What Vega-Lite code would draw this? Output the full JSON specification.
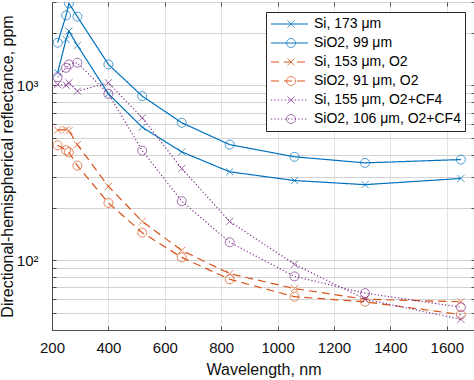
{
  "$schema": "https://vega.github.io/schema/vega-lite/v6.json",
  "width": 423,
  "height": 328,
  "autosize": {"type": "none"},
  "padding": {"left": 52, "top": 2, "right": 0, "bottom": 50},
  "config": {
    "font": "Liberation Sans",
    "view": {"stroke": "#4d4d4d", "strokeWidth": 1},
    "axis": {
      "labelFont": "Liberation Sans",
      "titleFont": "Liberation Sans",
      "labelColor": "#111111",
      "titleColor": "#111111",
      "domainColor": "#4d4d4d",
      "tickColor": "#4d4d4d",
      "labelFontSize": 15,
      "titleFontSize": 16,
      "titleFontWeight": "normal",
      "tickSize": -4,
      "labelOverlap": false,
      "labelFlush": false
    }
  },
  "data": {
    "values": [
      {"series": "Si, 173 μm", "series2": "Si, 173 μm", "w": 220, "r": 1183},
      {"series": "Si, 173 μm", "series2": "Si, 173 μm", "w": 250, "r": 1834},
      {"series": "Si, 173 μm", "series2": "Si, 173 μm", "w": 260, "r": 2046},
      {"series": "Si, 173 μm", "series2": "Si, 173 μm", "w": 290, "r": 1694},
      {"series": "Si, 173 μm", "series2": "Si, 173 μm", "w": 400, "r": 896},
      {"series": "Si, 173 μm", "series2": "Si, 173 μm", "w": 520, "r": 577},
      {"series": "Si, 173 μm", "series2": "Si, 173 μm", "w": 660, "r": 417},
      {"series": "Si, 173 μm", "series2": "Si, 173 μm", "w": 830, "r": 321},
      {"series": "Si, 173 μm", "series2": "Si, 173 μm", "w": 1060, "r": 286},
      {"series": "Si, 173 μm", "series2": "Si, 173 μm", "w": 1310, "r": 271},
      {"series": "Si, 173 μm", "series2": "Si, 173 μm", "w": 1650, "r": 294},
      {"series": "SiO2, 99 μm", "series2": "SiO2, 99 μm", "w": 220, "r": 1756},
      {"series": "SiO2, 99 μm", "series2": "SiO2, 99 μm", "w": 250, "r": 2516},
      {"series": "SiO2, 99 μm", "series2": "SiO2, 99 μm", "w": 260, "r": 2946},
      {"series": "SiO2, 99 μm", "series2": "SiO2, 99 μm", "w": 290, "r": 2473},
      {"series": "SiO2, 99 μm", "series2": "SiO2, 99 μm", "w": 400, "r": 1319},
      {"series": "SiO2, 99 μm", "series2": "SiO2, 99 μm", "w": 520, "r": 869},
      {"series": "SiO2, 99 μm", "series2": "SiO2, 99 μm", "w": 660, "r": 612},
      {"series": "SiO2, 99 μm", "series2": "SiO2, 99 μm", "w": 830, "r": 459},
      {"series": "SiO2, 99 μm", "series2": "SiO2, 99 μm", "w": 1060, "r": 391},
      {"series": "SiO2, 99 μm", "series2": "SiO2, 99 μm", "w": 1310, "r": 361},
      {"series": "SiO2, 99 μm", "series2": "SiO2, 99 μm", "w": 1650, "r": 377},
      {"series": "Si, 153 μm, O2", "series2": "Si, 153 μm, O2", "w": 220, "r": 555},
      {"series": "Si, 153 μm, O2", "series2": "Si, 153 μm, O2", "w": 250, "r": 560},
      {"series": "Si, 153 μm, O2", "series2": "Si, 153 μm, O2", "w": 260, "r": 552},
      {"series": "Si, 153 μm, O2", "series2": "Si, 153 μm, O2", "w": 290, "r": 459},
      {"series": "Si, 153 μm, O2", "series2": "Si, 153 μm, O2", "w": 400, "r": 265},
      {"series": "Si, 153 μm, O2", "series2": "Si, 153 μm, O2", "w": 520, "r": 167},
      {"series": "Si, 153 μm, O2", "series2": "Si, 153 μm, O2", "w": 660, "r": 114},
      {"series": "Si, 153 μm, O2", "series2": "Si, 153 μm, O2", "w": 830, "r": 84},
      {"series": "Si, 153 μm, O2", "series2": "Si, 153 μm, O2", "w": 1060, "r": 69},
      {"series": "Si, 153 μm, O2", "series2": "Si, 153 μm, O2", "w": 1310, "r": 60},
      {"series": "Si, 153 μm, O2", "series2": "Si, 153 μm, O2", "w": 1650, "r": 58},
      {"series": "SiO2, 91 μm, O2", "series2": "SiO2, 91 μm, O2", "w": 220, "r": 455},
      {"series": "SiO2, 91 μm, O2", "series2": "SiO2, 91 μm, O2", "w": 250, "r": 426},
      {"series": "SiO2, 91 μm, O2", "series2": "SiO2, 91 μm, O2", "w": 260, "r": 415},
      {"series": "SiO2, 91 μm, O2", "series2": "SiO2, 91 μm, O2", "w": 290, "r": 348},
      {"series": "SiO2, 91 μm, O2", "series2": "SiO2, 91 μm, O2", "w": 400, "r": 213},
      {"series": "SiO2, 91 μm, O2", "series2": "SiO2, 91 μm, O2", "w": 520, "r": 144},
      {"series": "SiO2, 91 μm, O2", "series2": "SiO2, 91 μm, O2", "w": 660, "r": 104},
      {"series": "SiO2, 91 μm, O2", "series2": "SiO2, 91 μm, O2", "w": 830, "r": 78},
      {"series": "SiO2, 91 μm, O2", "series2": "SiO2, 91 μm, O2", "w": 1060, "r": 62},
      {"series": "SiO2, 91 μm, O2", "series2": "SiO2, 91 μm, O2", "w": 1310, "r": 58},
      {"series": "SiO2, 91 μm, O2", "series2": "SiO2, 91 μm, O2", "w": 1650, "r": 49},
      {"series": "Si, 155 μm, O2+CF4", "series2": "Si, 155 μm, O2+CF4", "w": 220, "r": 1013},
      {"series": "Si, 155 μm, O2+CF4", "series2": "Si, 155 μm, O2+CF4", "w": 250, "r": 1004},
      {"series": "Si, 155 μm, O2+CF4", "series2": "Si, 155 μm, O2+CF4", "w": 260, "r": 1036},
      {"series": "Si, 155 μm, O2+CF4", "series2": "Si, 155 μm, O2+CF4", "w": 290, "r": 928},
      {"series": "Si, 155 μm, O2+CF4", "series2": "Si, 155 μm, O2+CF4", "w": 400, "r": 1036},
      {"series": "Si, 155 μm, O2+CF4", "series2": "Si, 155 μm, O2+CF4", "w": 520, "r": 653},
      {"series": "Si, 155 μm, O2+CF4", "series2": "Si, 155 μm, O2+CF4", "w": 660, "r": 335},
      {"series": "Si, 155 μm, O2+CF4", "series2": "Si, 155 μm, O2+CF4", "w": 830, "r": 167},
      {"series": "Si, 155 μm, O2+CF4", "series2": "Si, 155 μm, O2+CF4", "w": 1060, "r": 95},
      {"series": "Si, 155 μm, O2+CF4", "series2": "Si, 155 μm, O2+CF4", "w": 1310, "r": 60},
      {"series": "Si, 155 μm, O2+CF4", "series2": "Si, 155 μm, O2+CF4", "w": 1650, "r": 46},
      {"series": "SiO2, 106 μm, O2+CF4", "series2": "SiO2, 106 μm, O2+CF4", "w": 220, "r": 1115},
      {"series": "SiO2, 106 μm, O2+CF4", "series2": "SiO2, 106 μm, O2+CF4", "w": 250, "r": 1262},
      {"series": "SiO2, 106 μm, O2+CF4", "series2": "SiO2, 106 μm, O2+CF4", "w": 260, "r": 1319},
      {"series": "SiO2, 106 μm, O2+CF4", "series2": "SiO2, 106 μm, O2+CF4", "w": 290, "r": 1349},
      {"series": "SiO2, 106 μm, O2+CF4", "series2": "SiO2, 106 μm, O2+CF4", "w": 400, "r": 896},
      {"series": "SiO2, 106 μm, O2+CF4", "series2": "SiO2, 106 μm, O2+CF4", "w": 520, "r": 424},
      {"series": "SiO2, 106 μm, O2+CF4", "series2": "SiO2, 106 μm, O2+CF4", "w": 660, "r": 218},
      {"series": "SiO2, 106 μm, O2+CF4", "series2": "SiO2, 106 μm, O2+CF4", "w": 830, "r": 127},
      {"series": "SiO2, 106 μm, O2+CF4", "series2": "SiO2, 106 μm, O2+CF4", "w": 1060, "r": 81},
      {"series": "SiO2, 106 μm, O2+CF4", "series2": "SiO2, 106 μm, O2+CF4", "w": 1310, "r": 65},
      {"series": "SiO2, 106 μm, O2+CF4", "series2": "SiO2, 106 μm, O2+CF4", "w": 1650, "r": 54}
    ]
  },
  "layer": [
    {
      "mark": {"type": "line", "strokeWidth": 1.2, "clip": true},
      "encoding": {
        "x": {
          "field": "w", "type": "quantitative",
          "scale": {"domain": [200, 1700], "nice": false, "zero": false},
          "axis": {
            "orient": "bottom",
            "title": "Wavelength, nm",
            "format": "d",
            "values": [200, 400, 600, 800, 1000, 1200, 1400, 1600],
            "grid": true, "gridColor": "#e3e3e3",
            "labelPadding": 14, "titlePadding": 6
          }
        },
        "y": {
          "field": "r", "type": "quantitative",
          "scale": {"type": "log", "domain": [40, 3000], "nice": false},
          "axis": {
            "orient": "left",
            "title": "Directional-hemispherical reflectance, ppm",
            "values": [40, 50, 60, 70, 80, 90, 100, 200, 300, 400, 500, 600, 700, 800, 900, 1000, 2000, 3000],
            "labelExpr": "datum.value == 100 ? '10²' : (datum.value == 1000 ? '10³' : '')",
            "grid": true, "gridColor": "#d3d3d3",
            "labelPadding": 18,
            "titleX": -45, "titleBaseline": "middle"
          }
        },
        "color": {
          "field": "series", "type": "nominal",
          "sort": ["Si, 173 μm", "SiO2, 99 μm", "Si, 153 μm, O2", "SiO2, 91 μm, O2", "Si, 155 μm, O2+CF4", "SiO2, 106 μm, O2+CF4"],
          "scale": {"range": ["#0072BD", "#0072BD", "#D95319", "#D95319", "#7E2F8E", "#7E2F8E"]},
          "legend": {
            "orient": "none", "legendX": 214, "legendY": 10, "title": null,
            "symbolType": "stroke", "symbolSize": 1369, "symbolStrokeWidth": 1.2,
            "labelFont": "Liberation Sans", "labelFontSize": 14, "labelColor": "#000000",
            "labelOffset": 5, "labelLimit": 300, "padding": 4,
            "strokeColor": "#262626", "fillColor": "#ffffff",
            "clipHeight": 16, "rowPadding": 3,
            "encode": {"symbols": {"update": {
              "stroke": {"scale": "color", "field": "value"},
              "strokeDash": {"scale": "strokeDash", "field": "value"}
            }}}
          }
        },
        "strokeDash": {
          "field": "series", "type": "nominal",
          "sort": ["Si, 173 μm", "SiO2, 99 μm", "Si, 153 μm, O2", "SiO2, 91 μm, O2", "Si, 155 μm, O2+CF4", "SiO2, 106 μm, O2+CF4"],
          "scale": {"range": [[1, 0], [1, 0], [8, 5], [8, 5], [1.2, 2.2], [1.2, 2.2]]},
          "legend": null
        }
      }
    },
    {
      "mark": {"type": "point", "filled": false, "size": 81, "strokeWidth": 1, "clip": true},
      "encoding": {
        "x": {
          "field": "w", "type": "quantitative",
          "scale": {"domain": [200, 1700], "nice": false, "zero": false},
          "axis": {
            "orient": "top", "title": null, "labels": false, "domain": false,
            "values": [200, 400, 600, 800, 1000, 1200, 1400, 1600], "grid": false
          }
        },
        "y": {
          "field": "r", "type": "quantitative",
          "scale": {"type": "log", "domain": [40, 3000], "nice": false},
          "axis": {
            "orient": "right", "title": null, "labels": false, "domain": false,
            "values": [40, 50, 60, 70, 80, 90, 100, 200, 300, 400, 500, 600, 700, 800, 900, 1000, 2000, 3000],
            "grid": false
          }
        },
        "stroke": {
          "field": "series2", "type": "nominal",
          "sort": ["Si, 173 μm", "SiO2, 99 μm", "Si, 153 μm, O2", "SiO2, 91 μm, O2", "Si, 155 μm, O2+CF4", "SiO2, 106 μm, O2+CF4"],
          "scale": {"range": ["#0072BD", "#0072BD", "#D95319", "#D95319", "#7E2F8E", "#7E2F8E"]},
          "legend": {
            "orient": "none", "legendX": 228, "legendY": 10, "title": null,
            "symbolType": {"expr": "indexof(datum.value, 'SiO2') == 0 ? 'circle' : 'M-0.8,-0.8L0.8,0.8M-0.8,0.8L0.8,-0.8'"},
            "symbolSize": 81, "symbolStrokeWidth": 1, "symbolFillColor": "transparent",
            "labelFont": "Liberation Sans", "labelFontSize": 14, "labelExpr": "''",
            "labelOffset": 5, "padding": 4,
            "strokeColor": "transparent", "fillColor": "transparent",
            "clipHeight": 16, "rowPadding": 3
          }
        },
        "shape": {
          "field": "series2", "type": "nominal",
          "sort": ["Si, 173 μm", "SiO2, 99 μm", "Si, 153 μm, O2", "SiO2, 91 μm, O2", "Si, 155 μm, O2+CF4", "SiO2, 106 μm, O2+CF4"],
          "scale": {"range": ["M-0.8,-0.8L0.8,0.8M-0.8,0.8L0.8,-0.8", "circle", "M-0.8,-0.8L0.8,0.8M-0.8,0.8L0.8,-0.8", "circle", "M-0.8,-0.8L0.8,0.8M-0.8,0.8L0.8,-0.8", "circle"]},
          "legend": null
        }
      }
    }
  ],
  "resolve": {"axis": {"x": "independent", "y": "independent"}}
}
